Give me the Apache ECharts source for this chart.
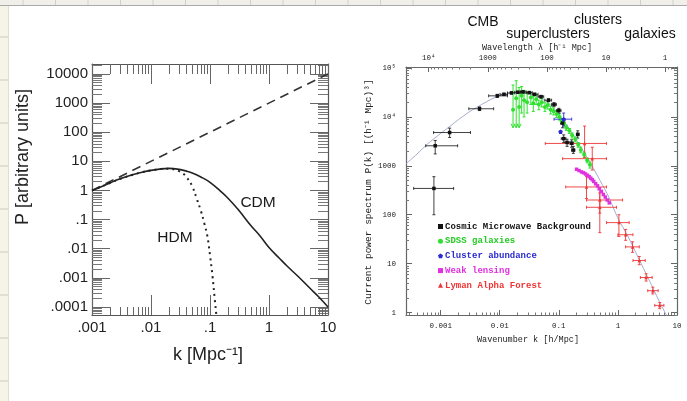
<!DOCTYPE html>
<html><head><meta charset="utf-8">
<script src="https://cdn.jsdelivr.net/npm/echarts@6/dist/echarts.min.js"></script>
<style>html,body{margin:0;padding:0;background:#fff}#c{width:687px;height:401px}</style>
</head><body><div id="c"></div>
<script>
// ---------- LEFT CHART DATA ----------
const leftKTicks = [0.001, 0.01, 0.1, 1, 10];
const leftKTickLabels = ['.001', '.01', '.1', '1', '10'];
const leftPTicks = [0.0001, 0.001, 0.01, 0.1, 1, 10, 100, 1000, 10000];
const leftPTickLabels = ['.0001', '.001', '.01', '.1', '1', '10', '100', '1000', '10000'];

const dashK = [0.001, 10];
const dashP = [1, 10000];

const cdmK = [0.001, 0.0015, 0.002, 0.003, 0.005, 0.007, 0.01, 0.015, 0.02, 0.03, 0.04, 0.05, 0.07, 0.1, 0.15, 0.2, 0.3, 0.5, 0.7, 1, 1.5, 2, 3, 5, 7, 10];
const cdmP = [1, 1.4, 1.8, 2.5, 3.5, 4.2, 4.9, 5.5, 5.7, 5.3, 4.6, 4.0, 2.9, 1.9, 0.95, 0.55, 0.22, 0.06, 0.028, 0.011, 0.0047, 0.0026, 0.0012, 0.00043, 0.00022, 0.0001];

const hdmK = [0.001, 0.0015, 0.002, 0.003, 0.005, 0.007, 0.01, 0.015, 0.02, 0.025, 0.03, 0.035, 0.04, 0.05, 0.06, 0.07, 0.08, 0.09, 0.1, 0.11, 0.12, 0.13, 0.14];
const hdmP = [1, 1.4, 1.8, 2.5, 3.5, 4.2, 4.9, 5.5, 5.6, 5.2, 4.6, 3.8, 2.9, 1.4, 0.5, 0.2, 0.075, 0.028, 0.006, 0.0012, 0.0002, 0.00004, 0.00001];

const leftLabelNames = ['CDM', 'HDM'];
const leftLabelK = [0.652, 0.0255];
const leftLabelP = [0.369, 0.0231];

// ---------- RIGHT CHART DATA ----------
const rightKTicks = [0.001, 0.01, 0.1, 1, 10];
const rightKTickLabels = ['0.001', '0.01', '0.1', '1', '10'];
const lambdaTicks = [1, 10, 100, 1000, 10000];
const lambdaTickLabels = ['1', '10', '100', '1000', '10⁴'];
const rightPTicks = [1, 10, 100, 1000, 10000, 100000];
const rightPTickLabels = ['1', '10', '100', '1000', '10⁴', '10⁵'];

const theoryK = [0.00026, 0.0004, 0.0006, 0.001, 0.0015, 0.002, 0.003, 0.004, 0.006, 0.008, 0.01, 0.015, 0.02, 0.03, 0.04, 0.05, 0.07, 0.1, 0.15, 0.2, 0.3, 0.5, 0.7, 1, 1.5, 2, 3, 4, 5, 7];
const theoryP = [1100, 1750, 2800, 4600, 6700, 8800, 12500, 15500, 20500, 24500, 27000, 30500, 31500, 30000, 27000, 24000, 18500, 11000, 5800, 3300, 1500, 500, 230, 85, 35, 17, 6.2, 3.0, 1.7, 0.78];

const cmbK   = [0.00077, 0.00081, 0.00142, 0.00455, 0.0091, 0.0118, 0.0158, 0.0203, 0.0248, 0.0315, 0.039, 0.05, 0.067, 0.083, 0.1, 0.116, 0.121, 0.138, 0.165, 0.176, 0.209];
const cmbP   = [345, 2570, 4800, 14700, 27000, 29000, 31000, 32000, 32500, 31500, 29000, 26000, 22000, 18000, 13500, 7500, 3600, 3000, 2900, 2100, 4400];
const cmbKLo = [0.00035, 0.00056, 0.00076, 0.003, 0.0065, 0.0101, 0.0135, 0.018, 0.0225, 0.028, 0.0355, 0.0445, 0.058, 0.0755, 0.091, 0.107, 0.11, 0.127, 0.154, 0.165, 0.198];
const cmbKHi = [0.00166, 0.00194, 0.0032, 0.0079, 0.0135, 0.0135, 0.018, 0.0225, 0.028, 0.0355, 0.0445, 0.0555, 0.0755, 0.091, 0.109, 0.125, 0.132, 0.149, 0.176, 0.187, 0.22];
const cmbPLo = [100, 1750, 3800, 13500, 25000, 27500, 29500, 30500, 31000, 30000, 27500, 24500, 20500, 16500, 12000, 6000, 3000, 2500, 2400, 1800, 3700];
const cmbPHi = [600, 3300, 5900, 16000, 29000, 30500, 32500, 33500, 34000, 33000, 30500, 27500, 23500, 19500, 15000, 9000, 4300, 3500, 3400, 2500, 5200];

const sdssK   = [0.0168, 0.019, 0.0213, 0.0235, 0.0258, 0.0291, 0.0336, 0.037, 0.0414, 0.0459, 0.0515, 0.0582, 0.065, 0.0728, 0.0818, 0.0918, 0.103, 0.112, 0.123, 0.134, 0.151, 0.168, 0.19, 0.213, 0.235, 0.269, 0.302, 0.336];
const sdssP   = [14000, 24000, 16000, 27000, 22000, 20000, 25000, 19000, 23000, 18000, 20000, 16000, 17500, 14000, 13000, 11500, 10000, 8200, 7500, 6000, 5200, 4200, 3500, 2700, 2100, 1700, 1300, 1050];
const sdssPLo = [6000, 6000, 6000, 12000, 10000, 12000, 18000, 13000, 18000, 14000, 16000, 13000, 14500, 11500, 11000, 9800, 8600, 7200, 6600, 5300, 4600, 3700, 3100, 2400, 1850, 1500, 1150, 900];
const sdssPHi = [45000, 55000, 40000, 42000, 35000, 30000, 32000, 26000, 28000, 22000, 24000, 19500, 21000, 16500, 15300, 13300, 11600, 9300, 8500, 6800, 5800, 4700, 3900, 3000, 2400, 1900, 1450, 1200];
const sdssArrow = [1, 1, 1, 0, 0, 0, 0, 0, 0, 0, 0, 0, 0, 0, 0, 0, 0, 0, 0, 0, 0, 0, 0, 0, 0, 0, 0, 0];

const clusterK   = [0.121, 0.107];
const clusterP   = [9000, 5000];
const clusterKLo = [0.083, 0.107];
const clusterKHi = [0.165, 0.107];
const clusterPLo = [6500, 5000];
const clusterPHi = [12000, 5000];

const lensK = [0.2, 0.22, 0.242, 0.263, 0.284, 0.305, 0.326, 0.347, 0.368, 0.39, 0.42, 0.452, 0.483, 0.525, 0.567, 0.61, 0.66, 0.714];
const lensP = [850, 800, 750, 720, 680, 640, 600, 560, 520, 480, 430, 390, 340, 300, 260, 230, 200, 175];

const lyaK   = [0.273, 0.368, 0.294, 0.494, 0.494, 1.04, 1.35, 1.77, 2.3, 3.0, 3.9, 5.1];
const lyaP   = [2870, 1400, 370, 200, 142, 69, 39, 22, 11.6, 5.2, 2.8, 1.4];
const lyaKLo = [0.059, 0.116, 0.131, 0.294, 0.294, 0.64, 1.0, 1.35, 1.8, 2.4, 3.2, 4.2];
const lyaKHi = [0.64, 0.64, 0.64, 1.2, 0.945, 1.55, 1.8, 2.3, 2.9, 3.8, 4.8, 6.0];
const lyaPLo = [1500, 820, 215, 108, 43, 36, 30, 17, 9.5, 4.4, 2.4, 1.2];
const lyaPHi = [6500, 2400, 600, 350, 280, 100, 50, 28, 14, 6.2, 3.3, 1.6];

const legendNames = ['Cosmic Microwave Background', 'SDSS galaxies', 'Cluster abundance', 'Weak lensing', 'Lyman Alpha Forest'];
const topNotes = ['CMB', 'superclusters', 'clusters', 'galaxies'];

// ---------- helpers ----------
const SANS = 'Liberation Sans';
const MONO = 'Liberation Mono';
function minors(lo, hi) {
  const out = [];
  for (let e = Math.floor(Math.log10(lo)) - 1; e <= Math.ceil(Math.log10(hi)); e++) {
    for (let m = 2; m <= 9; m++) {
      const v = +(m * Math.pow(10, e)).toPrecision(6);
      if (v > lo && v < hi) out.push(v);
    }
  }
  return out;
}
function fmt(ticks, labels) {
  return function (v) {
    let best = 0, bd = Infinity;
    ticks.forEach((t, i) => { const d = Math.abs(Math.log10(v) - Math.log10(t)); if (d < bd) { bd = d; best = i; } });
    return labels[best];
  };
}
function ax(gi, pos, min, max, tickVals, tickLen, lineShow, lineColor, tickColor, label, extra) {
  return Object.assign({
    type: 'log', logBase: 10, gridIndex: gi, position: pos, min: min, max: max,
    axisLine: { show: lineShow, onZero: false, lineStyle: { color: lineColor, width: 1.2 } },
    axisTick: { show: true, inside: true, length: tickLen, customValues: tickVals, lineStyle: { color: tickColor, width: 1 } },
    axisLabel: label ? label : { show: false },
    splitLine: { show: false }, minorTick: { show: false }, minorSplitLine: { show: false },
    axisPointer: { show: false }
  }, extra || {});
}
const pair = (a, b) => a.map((v, i) => [v, b[i]]);

// ranges
const Lx = [0.001, 10];
const Ly = [Math.pow(10, -4.275), Math.pow(10, 4.34)];
const Rx = [Math.pow(10, -3.586), 10];
const Ry = [0.89, 105000];
const Rl = [2 * Math.PI / Rx[1], 2 * Math.PI / Rx[0]];

const LCOL = '#555';
const leftLab = (ticks, labels, margin) => ({ show: true, customValues: ticks, formatter: fmt(ticks, labels), color: '#222', fontFamily: SANS, fontSize: 15, margin: margin });
const rightLab = (ticks, labels, margin) => ({ show: true, customValues: ticks, formatter: fmt(ticks, labels), color: '#222', fontFamily: MONO, fontSize: 7.5, margin: margin });

const xAxes = [
  ax(0, 'bottom', Lx[0], Lx[1], leftKTicks, 20, true, LCOL, '#666', leftLab(leftKTicks, leftKTickLabels, 5)),
  ax(0, 'bottom', Lx[0], Lx[1], minors(Lx[0], Lx[1]), 8, false, LCOL, '#666'),
  ax(0, 'top', Lx[0], Lx[1], leftKTicks, 20, true, LCOL, '#666'),
  ax(0, 'top', Lx[0], Lx[1], minors(Lx[0], Lx[1]), 10, false, LCOL, '#666'),
  ax(1, 'bottom', Rx[0], Rx[1], rightKTicks, 5, true, '#666', '#666', rightLab(rightKTicks, rightKTickLabels, 7)),
  ax(1, 'bottom', Rx[0], Rx[1], minors(Rx[0], Rx[1]), 2.5, false, '#666', '#777'),
  ax(1, 'top', Rl[0], Rl[1], lambdaTicks, 5, true, '#666', '#666', rightLab(lambdaTicks, lambdaTickLabels, 5), { inverse: true }),
  ax(1, 'top', Rl[0], Rl[1], minors(Rl[0], Rl[1]), 2.5, false, '#666', '#777', null, { inverse: true })
];
const yAxes = [
  ax(0, 'left', Ly[0], Ly[1], leftPTicks, 18, true, LCOL, '#666', leftLab(leftPTicks, leftPTickLabels, 4)),
  ax(0, 'left', Ly[0], Ly[1], minors(Ly[0], Ly[1]), 10, false, LCOL, '#777'),
  ax(0, 'right', Ly[0], Ly[1], leftPTicks, 18, true, LCOL, '#666'),
  ax(0, 'right', Ly[0], Ly[1], minors(Ly[0], Ly[1]), 10, false, LCOL, '#777'),
  ax(1, 'left', Ry[0], Ry[1], rightPTicks, 6, true, '#666', '#666', rightLab(rightPTicks, rightPTickLabels, 10)),
  ax(1, 'left', Ry[0], Ry[1], minors(Ry[0], Ry[1]), 3, false, '#666', '#777'),
  ax(1, 'right', Ry[0], Ry[1], rightPTicks, 6, true, '#666', '#666'),
  ax(1, 'right', Ry[0], Ry[1], minors(Ry[0], Ry[1]), 3, false, '#666', '#777')
];

function errSeries(name, color, data, caps, lw) {
  return {
    type: 'custom', name: name + ' err', xAxisIndex: 4, yAxisIndex: 4, clip: true, silent: true, z: 3,
    data: data,
    renderItem: function (params, api) {
      const k = api.value(0), p = api.value(1), kl = api.value(2), kh = api.value(3), pl = api.value(4), ph = api.value(5), arr = api.value(6);
      const c = api.coord([k, p]);
      const l = api.coord([kl, p]), r = api.coord([kh, p]);
      const b = api.coord([k, pl]), t = api.coord([k, ph]);
      const st = { stroke: color, lineWidth: lw };
      const ch = [];
      if (r[0] - l[0] > 0.5) {
        ch.push({ type: 'line', shape: { x1: l[0], y1: c[1], x2: r[0], y2: c[1] }, style: st });
        if (caps) {
          ch.push({ type: 'line', shape: { x1: l[0], y1: c[1] - 1.5, x2: l[0], y2: c[1] + 1.5 }, style: st });
          ch.push({ type: 'line', shape: { x1: r[0], y1: c[1] - 1.5, x2: r[0], y2: c[1] + 1.5 }, style: st });
        }
      }
      if (b[1] - t[1] > 0.5) {
        ch.push({ type: 'line', shape: { x1: c[0], y1: t[1], x2: c[0], y2: b[1] }, style: st });
        if (caps) {
          ch.push({ type: 'line', shape: { x1: c[0] - 1.5, y1: t[1], x2: c[0] + 1.5, y2: t[1] }, style: st });
          if (!arr) ch.push({ type: 'line', shape: { x1: c[0] - 1.5, y1: b[1], x2: c[0] + 1.5, y2: b[1] }, style: st });
        }
        if (arr) ch.push({ type: 'polyline', shape: { points: [[c[0] - 2, b[1] - 4], [c[0], b[1]], [c[0] + 2, b[1] - 4]] }, style: { stroke: color, lineWidth: lw, fill: null } });
      }
      return { type: 'group', children: ch };
    }
  };
}
function six(k, p, kl, kh, pl, ph, arr) { return k.map((v, i) => [v, p[i], kl[i], kh[i], pl[i], ph[i], arr ? arr[i] : 0]); }

const CMB_C = '#111', SDSS_C = '#2fe02f', CL_C = '#2a2ad0', WL_C = '#e030e0', LY_C = '#ee3535';
const pent = 'path://M0,-10L9.5,-3.1L5.9,8.1L-5.9,8.1L-9.5,-3.1Z';

const series = [
  // left chart
  { type: 'line', name: 'dash', xAxisIndex: 0, yAxisIndex: 0, data: pair(dashK, dashP), symbol: 'none', lineStyle: { color: '#333', width: 1.6, type: [9, 6] }, z: 2, silent: true },
  { type: 'line', name: 'HDM', xAxisIndex: 0, yAxisIndex: 0, data: pair(hdmK, hdmP), symbol: 'none', smooth: 0.4, lineStyle: { color: '#222', width: 2, type: [2, 4] }, z: 2, silent: true },
  { type: 'line', name: 'CDM', xAxisIndex: 0, yAxisIndex: 0, data: pair(cdmK, cdmP), symbol: 'none', smooth: 0.4, lineStyle: { color: '#222', width: 1.6 }, z: 3, silent: true },
  { type: 'scatter', name: 'labels', xAxisIndex: 0, yAxisIndex: 0, symbolSize: 1, silent: true, itemStyle: { opacity: 0 },
    data: leftLabelNames.map((n, i) => ({ value: [leftLabelK[i], leftLabelP[i]] })),
    label: { show: true, formatter: p => leftLabelNames[p.dataIndex], position: 'inside', color: '#1a1a1a', opacity: 1, fontFamily: SANS, fontSize: 15.5 } },
  // right chart
  { type: 'line', name: 'theory', xAxisIndex: 4, yAxisIndex: 4, data: pair(theoryK, theoryP), symbol: 'none', smooth: 0.3, lineStyle: { color: '#a4abd0', width: 1 }, z: 1, silent: true },
  errSeries('sdss', SDSS_C, six(sdssK, sdssP, sdssK, sdssK, sdssPLo, sdssPHi, sdssArrow), true, 1),
  errSeries('cmb', CMB_C, six(cmbK, cmbP, cmbKLo, cmbKHi, cmbPLo, cmbPHi), true, 0.8),
  errSeries('cl', CL_C, six(clusterK, clusterP, clusterKLo, clusterKHi, clusterPLo, clusterPHi), true, 0.9),
  errSeries('lya', LY_C, six(lyaK, lyaP, lyaKLo, lyaKHi, lyaPLo, lyaPHi), true, 0.9),
  { type: 'scatter', name: legendNames[1], xAxisIndex: 4, yAxisIndex: 4, data: pair(sdssK, sdssP), symbol: 'circle', symbolSize: 4, itemStyle: { color: SDSS_C, opacity: 1 }, z: 4, silent: true },
  { type: 'scatter', name: legendNames[0], xAxisIndex: 4, yAxisIndex: 4, data: pair(cmbK, cmbP), symbol: 'rect', symbolSize: 3.5, itemStyle: { color: CMB_C, opacity: 1 }, z: 5, silent: true },
  { type: 'scatter', name: legendNames[2], xAxisIndex: 4, yAxisIndex: 4, data: pair(clusterK, clusterP), symbol: pent, symbolSize: 4.5, itemStyle: { color: CL_C, opacity: 1 }, z: 5, silent: true },
  { type: 'scatter', name: legendNames[3], xAxisIndex: 4, yAxisIndex: 4, data: pair(lensK, lensP), symbol: 'rect', symbolSize: 3.5, itemStyle: { color: WL_C, opacity: 1 }, z: 5, silent: true },
  { type: 'scatter', name: legendNames[4], xAxisIndex: 4, yAxisIndex: 4, data: pair(lyaK, lyaP), symbol: 'triangle', symbolSize: 3.5, itemStyle: { color: LY_C, opacity: 1 }, z: 6, silent: true }
];

// decorations / titles
const deco = [];
deco.push({ type: 'rect', shape: { x: 0, y: 0, width: 8, height: 401 }, style: { fill: '#f6f3e7' }, silent: true, z: -10 });
[37, 80, 123, 166, 209, 252, 295, 338, 381].forEach(y => deco.push({ type: 'line', shape: { x1: 0, y1: y, x2: 8, y2: y }, style: { stroke: '#cdcabf', lineWidth: 1 }, silent: true }));
deco.push({ type: 'rect', shape: { x: 0, y: 0, width: 687, height: 5 }, style: { fill: '#f0efe9' }, silent: true });
for (let x = 23; x < 687; x += 32.5) deco.push({ type: 'line', shape: { x1: x, y1: 0, x2: x, y2: 5 }, style: { stroke: '#d0d0d0', lineWidth: 1 }, silent: true });
deco.push({ type: 'line', shape: { x1: 0, y1: 5.5, x2: 687, y2: 5.5 }, style: { stroke: '#aaa', lineWidth: 1.2 }, silent: true });
deco.push({ type: 'line', shape: { x1: 8.5, y1: 6, x2: 8.5, y2: 401 }, style: { stroke: '#e0ddd2', lineWidth: 1 }, silent: true });

const txt = (s, x, y, font, size, rot, color) => ({ type: 'text', x: x, y: y, rotation: rot || 0, silent: true,
  style: { text: s, fontFamily: font, fontSize: size, fill: color || '#222', align: 'center', verticalAlign: 'middle' } });
deco.push(txt('P [arbitrary units]', 23, 157, SANS, 18, Math.PI / 2));
deco.push(txt('k [Mpc⁻¹]', 208, 355, SANS, 18));
deco.push(txt('Current power spectrum P(k) [(h⁻¹ Mpc)³]', 368, 192, MONO, 9.5, Math.PI / 2));
deco.push(txt('Wavenumber k [h/Mpc]', 528, 340, MONO, 8.5));
deco.push(txt('Wavelength λ [h⁻¹ Mpc]', 537, 48, MONO, 8.5));
deco.push(txt(topNotes[0], 483, 22, SANS, 14, 0, '#111'));
deco.push(txt(topNotes[1], 548, 34, SANS, 14, 0, '#111'));
deco.push(txt(topNotes[2], 598, 20, SANS, 14, 0, '#111'));
deco.push(txt(topNotes[3], 650, 34, SANS, 14, 0, '#111'));

const legendColors = [CMB_C, '#22cc22', CL_C, WL_C, LY_C];
const legendIcons = ['rect', 'circle', pent, 'rect', 'triangle'];

const option = {
  animation: false,
  backgroundColor: '#fff',
  grid: [
    { left: 92, top: 64, right: 359, bottom: 86, containLabel: false, outerBoundsMode: 'none' },
    { left: 406, top: 67, right: 10, bottom: 86, containLabel: false, outerBoundsMode: 'none' }
  ],
  xAxis: xAxes,
  yAxis: yAxes,
  legend: {
    orient: 'vertical', left: 438, top: 222, itemGap: 5.7, itemWidth: 5, itemHeight: 5, padding: 0,
    selectedMode: false,
    data: legendNames.map((n, i) => ({ name: n, icon: legendIcons[i], textStyle: { color: legendColors[i] } })),
    textStyle: { fontFamily: MONO, fontSize: 9, fontWeight: 'bold', padding: [0, 0, 0, -3] }
  },
  graphic: deco,
  series: series
};
const chart = echarts.init(document.getElementById('c'), null, { renderer: 'canvas', width: 687, height: 401 });
chart.setOption(option);
</script></body></html>
